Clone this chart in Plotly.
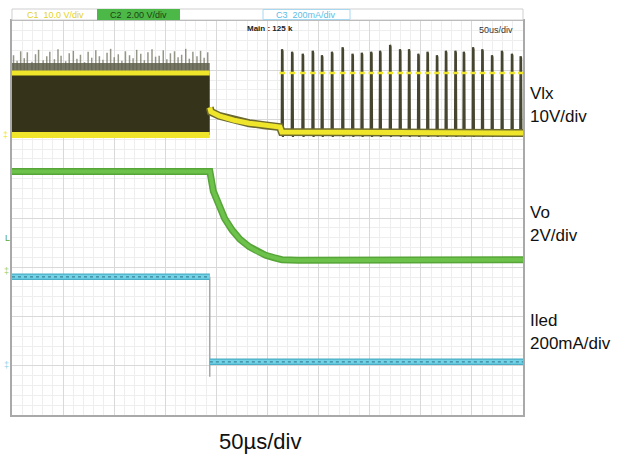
import plotly.graph_objects as go

# ---------------- data ----------------
T_OFF = 193.5                      # µs, moment the converter switches off

# CH1  Vlx (V)
vlx_on_top = 12.6
vlx_on_bottom = 0.0
grass_t = [1.5, 5, 8.5, 12, 15, 19.5, 23, 26, 30.5, 34, 37, 41.5, 45, 48, 52.5, 56,
           60, 63.5, 67, 71, 74.5, 78, 82, 85.5, 89, 93, 96.5, 100, 104, 107.5, 111,
           115, 118.5, 122, 126, 129.5, 133, 137, 140.5, 144, 148, 151.5, 155, 159,
           162.5, 166, 170, 173.5, 177, 181, 184.5, 188, 191.5]
grass_v = [16.2, 15.1, 17.0, 15.6, 16.8, 14.9, 16.4, 17.3, 15.2, 16.0, 16.9, 15.4,
           17.4, 16.1, 15.0, 16.6, 17.1, 15.5, 16.3, 14.8, 16.9, 15.7, 17.2, 16.0,
           15.3, 16.7, 17.5, 15.8, 16.4, 15.1, 17.0, 16.2, 15.6, 17.3, 16.5, 15.2,
           16.8, 17.4, 15.9, 16.1, 17.2, 15.4, 16.6, 17.0, 15.8, 16.3, 17.5, 15.5,
           16.9, 16.0, 17.1, 15.7, 16.8]
vlx_decay_t = [193.5, 194.6, 202.7, 217.4, 232.0, 246.6, 262.2, 264.0]
vlx_decay_v = [5.6, 4.7, 3.9, 3.0, 2.4, 2.0, 1.6, 0.6]
vlx_base_after = 0.4
spike_t = [264.4, 274.2, 284.6, 294.4, 303.4, 313.2, 323.6, 333.3, 342.4, 351.6,
           360.3, 370.1, 379.8, 388.6, 397.7, 406.7, 415.9, 424.7, 434.0, 442.2,
           451.3, 460.3, 469.8, 479.5, 489.3, 497.8]
spike_v = [17.4, 16.9, 16.5, 17.1, 16.2, 16.9, 17.8, 16.5, 16.7, 16.9, 17.1, 18.3,
           17.4, 17.4, 16.5, 16.9, 16.2, 17.1, 17.1, 16.9, 17.8, 17.4, 16.2, 17.1,
           16.5, 16.0]

# CH2  Vo (V)
vo_t = [0, 193.6, 197, 202.7, 208, 215.4, 223, 232, 240, 248.2, 256, 264.1, 280, 500]
vo_v = [4.0, 4.0, 3.2, 2.57, 2.1, 1.62, 1.25, 0.95, 0.75, 0.6, 0.5, 0.42, 0.40, 0.42]

# CH3  Iled (mA)
iled_t = [0, 193.6, 193.6, 500]
iled_ma = [358, 358, 13, 13]
iled_undershoot = -48

# channel settings: (ground position in divisions, units per division)
CH1 = (5.685, 10.0)
CH2 = (2.944, 2.0)
CH3 = (1.015, 200.0)

channel_labels = [("Vlx", 6.538), ("10V/div", 6.071), ("Vo", 4.102),
                  ("2V/div", 3.635), ("Iled", 1.929), ("200mA/div", 1.462)]


def to_div(vals, ch):
    off, scale = ch
    return [None if v is None else off + v / scale for v in vals]


YEL = "#efe52b"
DARK = "#35341b"
FONT = "Liberation Sans, Arial, sans-serif"

fig = go.Figure()

# ---- CH1 switching band (before T_OFF) ----
band_x = [0, T_OFF, T_OFF, 0, 0]
band_y = [vlx_on_bottom, vlx_on_bottom, vlx_on_top, vlx_on_top, vlx_on_bottom]
gx, gy = [], []
for t, v in zip(grass_t, grass_v):
    gx += [t, t, None]
    gy += [vlx_on_top, v, None]
fig.add_trace(go.Scatter(x=gx, y=to_div(gy, CH1), mode="lines",
                         line=dict(color="rgba(105,105,85,0.7)", width=1.5),
                         hoverinfo="skip"))
fig.add_trace(go.Scatter(x=band_x, y=to_div([vlx_on_top, vlx_on_top, 14.6, 14.6, vlx_on_top], CH1),
                         fill="toself", fillcolor="rgba(95,95,75,0.85)", line=dict(width=0),
                         mode="lines", hoverinfo="skip"))
fig.add_trace(go.Scatter(x=band_x, y=to_div(band_y, CH1), fill="toself",
                         fillcolor=DARK, line=dict(width=0), mode="lines",
                         hoverinfo="skip"))
# yellow envelope lines
for lvl, w in ((vlx_on_top, 5), (vlx_on_bottom, 6)):
    fig.add_trace(go.Scatter(x=[0, T_OFF], y=to_div([lvl, lvl], CH1), mode="lines",
                             line=dict(color=YEL, width=w), hoverinfo="skip"))

# ---- CH1 bursts after T_OFF ----
sx, sy = [], []
for t, v in zip(spike_t, spike_v):
    sx += [t - 0.5, t - 0.2, t + 0.3, t + 0.7, None]
    sy += [vlx_base_after, v, v - 0.4, vlx_base_after - 0.8, None]
fig.add_trace(go.Scatter(x=sx, y=to_div(sy, CH1), mode="lines",
                         line=dict(color="#46452f", width=2.2), hoverinfo="skip"))
fig.add_trace(go.Scatter(x=spike_t, y=to_div([vlx_on_top] * len(spike_t), CH1),
                         mode="markers", hoverinfo="skip",
                         marker=dict(symbol="line-ew", size=4,
                                     line=dict(color=YEL, width=2.5))))
after_x = vlx_decay_t + [500]
after_y = vlx_decay_v + [vlx_base_after]
fig.add_trace(go.Scatter(x=after_x, y=to_div(after_y, CH1), mode="lines",
                         line=dict(color="#6d6a30", width=8), hoverinfo="skip"))
fig.add_trace(go.Scatter(x=after_x, y=to_div(after_y, CH1), mode="lines",
                         line=dict(color=YEL, width=5), hoverinfo="skip"))

# ---- CH2 Vo ----
fig.add_trace(go.Scatter(x=vo_t, y=to_div(vo_v, CH2), mode="lines",
                         line=dict(color="#57a538", width=7), hoverinfo="skip"))
fig.add_trace(go.Scatter(x=vo_t, y=to_div(vo_v, CH2), mode="lines",
                         line=dict(color="#6cc24a", width=4), hoverinfo="skip"))

# ---- CH3 Iled ----
fig.add_trace(go.Scatter(x=[T_OFF, T_OFF], y=to_div([iled_ma[0], iled_undershoot], CH3),
                         mode="lines", line=dict(color="#a8a8a8", width=1.5),
                         hoverinfo="skip"))
for seg in ((0, 2), (2, 4)):
    xs, ys = iled_t[seg[0]:seg[1]], iled_ma[seg[0]:seg[1]]
    fig.add_trace(go.Scatter(x=xs, y=to_div(ys, CH3), mode="lines",
                             line=dict(color="#4aaec6", width=6.5), hoverinfo="skip"))
    fig.add_trace(go.Scatter(x=xs, y=to_div(ys, CH3), mode="lines",
                             line=dict(color="#72d2e8", width=4), hoverinfo="skip"))
    fig.add_trace(go.Scatter(x=xs, y=to_div(ys, CH3), mode="lines",
                             line=dict(color="#3b8596", width=1.2, dash="dot"),
                             hoverinfo="skip"))

# ---------------- layout ----------------
L, R, T, B = 12, 523, 21, 415
W = R - L


def px_x(px):
    return (px - L) / W


def px_y(py):
    return (B - py) / (B - T)


shapes = [
    dict(type="rect", xref="paper", yref="paper", x0=0, x1=1,
         y0=px_y(20), y1=px_y(9), line=dict(color="#cfcfcf", width=1),
         fillcolor="white"),
    dict(type="rect", xref="paper", yref="paper", x0=px_x(97), x1=px_x(180),
         y0=px_y(20), y1=px_y(9), line=dict(width=0), fillcolor="#4cb847"),
    dict(type="rect", xref="paper", yref="paper", x0=px_x(263), x1=px_x(350),
         y0=px_y(19.5), y1=px_y(9.5), line=dict(color="#a7d8f0", width=1),
         fillcolor="white"),
]

ann = [
    dict(text="C1  10.0 V/div", x=px_x(55), y=px_y(14.5), font=dict(size=9, color="#e3d21c")),
    dict(text="C2  2.00 V/div", x=px_x(138), y=px_y(14.5), font=dict(size=9, color="#1d4412")),
    dict(text="C3  200mA/div", x=px_x(306), y=px_y(14.5), font=dict(size=9, color="#5cbde6")),
    dict(text="<b>Main : 125 k</b>", x=px_x(270), y=px_y(29), font=dict(size=8, color="#222")),
    dict(text="50us/div", x=px_x(496), y=px_y(30), font=dict(size=9, color="#333")),
    dict(text="‡", x=px_x(5), y=px_y(135), font=dict(size=9, color=YEL)),
    dict(text="L", x=px_x(7), y=px_y(238), font=dict(size=9, color="#5aa83a")),
    dict(text="‡", x=px_x(6), y=px_y(271), font=dict(size=9, color="#9bcf6a")),
    dict(text="‡", x=px_x(6), y=px_y(365), font=dict(size=9, color="#8fd3ea")),
    dict(text="50µs/div", x=px_x(260), y=px_y(441), font=dict(size=22, color="#111")),
]
for a in ann:
    a.update(xref="paper", yref="paper", showarrow=False, xanchor="center",
             yanchor="middle")
    a["font"]["family"] = FONT

for txt, ydiv in channel_labels:
    ann.append(dict(text=txt, xref="paper", yref="y", x=px_x(528), y=ydiv,
                    showarrow=False, xanchor="left", yanchor="middle",
                    font=dict(family=FONT, size=17, color="#111")))

fig.update_layout(
    width=638, height=457,
    margin=dict(l=L, r=638 - R, t=T, b=457 - B),
    paper_bgcolor="white", plot_bgcolor="white",
    showlegend=False,
    shapes=shapes, annotations=ann,
    xaxis=dict(range=[0, 500], dtick=50, tick0=0, showgrid=True, gridcolor="#d9d9d9",
               gridwidth=1, zeroline=False, showticklabels=False, ticks="",
               showline=True, mirror=True, linecolor="#a9a9a9", linewidth=1.5,
               minor=dict(dtick=10, tick0=0, showgrid=True, gridcolor="#eeeeee",
                          gridwidth=1), fixedrange=True),
    yaxis=dict(range=[0, 8], dtick=1, tick0=0, showgrid=True, gridcolor="#d9d9d9",
               gridwidth=1, zeroline=False, showticklabels=False, ticks="",
               showline=True, mirror=True, linecolor="#a9a9a9", linewidth=1.5,
               minor=dict(dtick=0.2, tick0=0, showgrid=True, gridcolor="#eeeeee",
                          gridwidth=1), fixedrange=True),
)

fig.write_html("out.html", config={"displayModeBar": False},
               post_script="document.body.style.margin='0';"
                           "document.body.style.overflow='hidden';")
